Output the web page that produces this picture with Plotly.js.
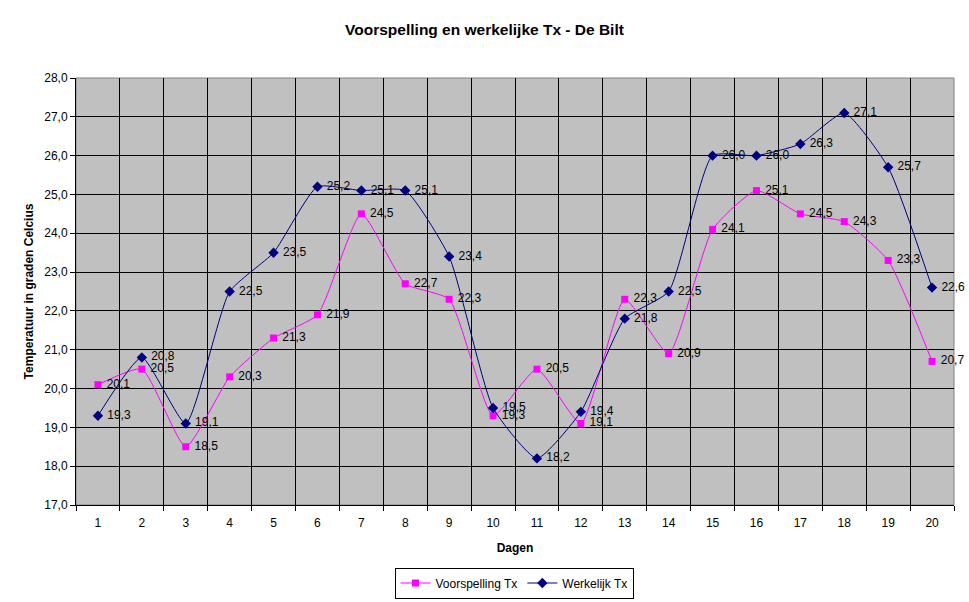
<!DOCTYPE html>
<html>
<head>
<meta charset="utf-8">
<script src="https://cdn.plot.ly/plotly-3.0.1.min.js"></script>
<style>
  html, body { margin: 0; padding: 0; background: #fff; }
  #chart { width: 969px; height: 602px; }
</style>
</head>
<body>
<div id="chart"></div>
<script>
const dagen = [1, 2, 3, 4, 5, 6, 7, 8, 9, 10, 11, 12, 13, 14, 15, 16, 17, 18, 19, 20];
const voorspelling = [20.1, 20.5, 18.5, 20.3, 21.3, 21.9, 24.5, 22.7, 22.3, 19.3,
                      20.5, 19.1, 22.3, 20.9, 24.1, 25.1, 24.5, 24.3, 23.3, 20.7];
const werkelijk = [19.3, 20.8, 19.1, 22.5, 23.5, 25.2, 25.1, 25.1, 23.4, 19.5,
                   18.2, 19.4, 21.8, 22.5, 26.0, 26.0, 26.3, 27.1, 25.7, 22.6];
const grenzen = [0.5, 1.5, 2.5, 3.5, 4.5, 5.5, 6.5, 7.5, 8.5, 9.5, 10.5,
                 11.5, 12.5, 13.5, 14.5, 15.5, 16.5, 17.5, 18.5, 19.5, 20.5];

const fmt = (v) => v.toFixed(1).replace('.', ',');
const font = 'Liberation Sans, Arial, sans-serif';

const data = [
  {
    x: dagen, y: voorspelling, name: 'Voorspelling Tx',
    type: 'scatter', mode: 'lines+markers+text', cliponaxis: false,
    line: { color: '#FF00FF', width: 1, shape: 'spline', smoothing: 0.5 },
    marker: { symbol: 'square', size: 7, color: '#FF00FF' },
    text: voorspelling.map(v => '\u00a0' + fmt(v)), textposition: 'middle right',
    textfont: { family: font, size: 12, color: '#000' },
    hoverinfo: 'x+y'
  },
  {
    x: dagen, y: werkelijk, name: 'Werkelijk Tx',
    type: 'scatter', mode: 'lines+markers+text', cliponaxis: false,
    line: { color: '#000080', width: 1, shape: 'spline', smoothing: 0.5 },
    marker: { symbol: 'diamond', size: 8, color: '#000080' },
    text: werkelijk.map(v => '\u00a0' + fmt(v)), textposition: 'middle right',
    textfont: { family: font, size: 12, color: '#000' },
    hoverinfo: 'x+y'
  },
  // onzichtbaar spoor om de labels van xaxis2 te tonen
  { x: [1], y: [17], xaxis: 'x2', type: 'scatter', mode: 'markers',
    marker: { opacity: 0 }, showlegend: false, hoverinfo: 'skip' }
];

const layout = {
  width: 969, height: 602,
  margin: { l: 76, r: 15, t: 78, b: 97 },
  paper_bgcolor: '#fff',
  plot_bgcolor: '#C0C0C0',
  font: { family: font, size: 12, color: '#000' },
  separators: ',.',
  title: {
    text: '<b>Voorspelling en werkelijke Tx - De Bilt</b>',
    font: { family: font, size: 15.5, color: '#000' },
    x: 0.5, xanchor: 'center', xref: 'container',
    y: 1 - 30 / 602, yanchor: 'middle', yref: 'container'
  },
  xaxis: {
    range: [0.5, 20.5], automargin: false,
    tickmode: 'array', tickvals: grenzen, ticktext: grenzen.map(() => ''),
    showgrid: true, gridcolor: '#000', gridwidth: 1,
    ticks: 'outside', ticklen: 5, tickcolor: '#000',
    showline: true, linecolor: '#000', linewidth: 1,
    zeroline: false, fixedrange: true
  },
  xaxis2: {
    overlaying: 'x', matches: 'x', side: 'bottom', automargin: false,
    range: [0.5, 20.5],
    tickmode: 'array', tickvals: dagen, ticktext: dagen.map(String),
    showgrid: false, ticks: 'outside', ticklen: 7, tickcolor: 'rgba(0,0,0,0)',
    zeroline: false, showline: false,
    tickfont: { family: font, size: 12, color: '#000' },
    title: { text: '<b>Dagen</b>', font: { family: font, size: 12, color: '#000' }, standoff: 14 }
  },
  yaxis: {
    range: [17, 28], dtick: 1, tick0: 17, tickformat: '.1f', automargin: false,
    showgrid: true, gridcolor: '#000', gridwidth: 1,
    ticks: 'outside', ticklen: 5, tickcolor: '#000',
    showline: true, linecolor: '#000', linewidth: 1,
    zeroline: false, fixedrange: true,
    tickfont: { family: font, size: 12, color: '#000' },
    title: { text: '<b>Temperatuur in graden Celcius</b>', font: { family: font, size: 12, color: '#000' }, standoff: 8 }
  },
  shapes: [
    { type: 'rect', xref: 'paper', yref: 'paper', x0: 0, x1: 1, y0: 0, y1: 1,
      line: { color: '#808080', width: 1 }, layer: 'below' }
  ],
  showlegend: true,
  legend: {
    orientation: 'h', x: 514 / 969, xref: 'container', xanchor: 'center',
    y: 1 - 583 / 602, yref: 'container', yanchor: 'middle',
    bordercolor: '#000', borderwidth: 1, bgcolor: '#fff',
    font: { family: font, size: 12, color: '#000' }
  }
};

Plotly.newPlot('chart', data, layout, { displayModeBar: false, staticPlot: true });
</script>
</body>
</html>
